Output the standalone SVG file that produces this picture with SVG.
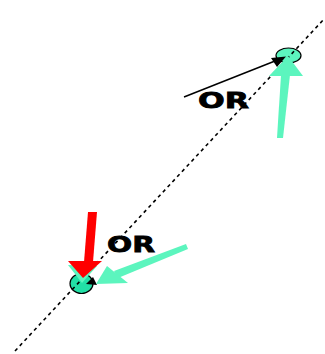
<svg xmlns="http://www.w3.org/2000/svg" width="325" height="354" viewBox="0 0 325 354">
<style>
.lbl{font-family:"DejaVu Sans","Liberation Sans",Arial,sans-serif;font-weight:bold;font-size:22px;fill:#000;stroke:#000;stroke-width:0.8}
.mint{fill:#5cf5be}
.dash{stroke:#000;stroke-width:1.6;stroke-dasharray:3.5 3.5;fill:none}
</style>
<rect width="325" height="354" fill="#fff"/>
<g id="label-top"><text class="lbl" x="198" y="107.5" textLength="51" lengthAdjust="spacingAndGlyphs">OR</text></g>
<g id="label-bottom"><text class="lbl" x="107" y="251.5" textLength="48" lengthAdjust="spacingAndGlyphs">OR</text></g>
<g id="node-top">
<ellipse cx="288.5" cy="55.5" rx="12.5" ry="7.5" class="mint" stroke="#000" stroke-width="1.2"/>
</g>
<g id="node-bottom">
<ellipse cx="81.5" cy="283.5" rx="11.5" ry="10" fill="#22e0a6" stroke="#000" stroke-width="1.2"/>
</g>
<g id="connectors">
<line class="dash" x1="15" y1="351" x2="325" y2="18"/>
<line x1="184" y1="97" x2="275" y2="61" stroke="#000" stroke-width="1.5"/>
<polygon points="286,56.5 271,58 277,67" fill="#000"/>
<polygon points="277,138 283,138 290,75 281,75" class="mint"/>
<polygon points="269,76 303,76 288,56" class="mint"/>
<polygon points="86,284 93,277 97,285" fill="#000"/>
<polygon points="68,265 97,266 82,283" class="mint"/>
<polygon points="88,212 97,212 93,262 84,262" fill="#f00"/>
<polygon points="68,261 102,261 83,278" fill="#f00"/>
<polygon points="186,244 188,249 118,278 114,271" class="mint"/>
<polygon points="96,284 107,266 128,283" class="mint"/>
</g>
</svg>
